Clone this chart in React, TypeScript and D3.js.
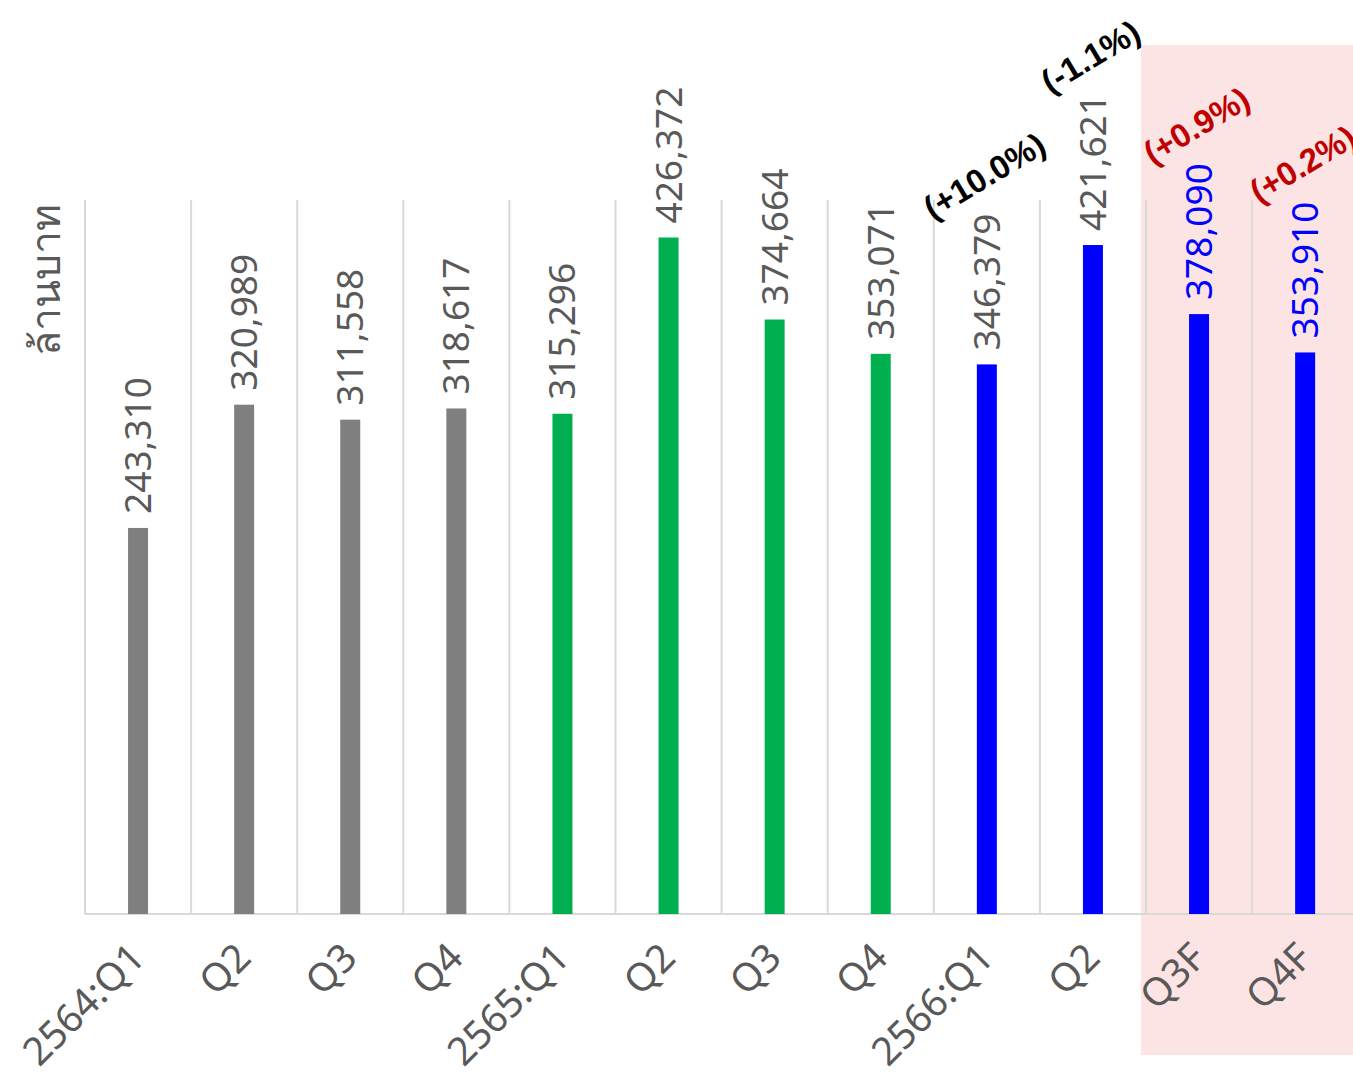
import React from "react";
import * as d3 from "d3";

const categories = ["2564:Q1", "Q2", "Q3", "Q4", "2565:Q1", "Q2 ", "Q3 ", "Q4 ", "2566:Q1", "Q2  ", "Q3F", "Q4F"];
const values = [243310, 320989, 311558, 318617, 315296, 426372, 374664, 353071, 346379, 421621, 378090, 353910];
const barColors = ["#7f7f7f", "#7f7f7f", "#7f7f7f", "#7f7f7f", "#00b050", "#00b050", "#00b050", "#00b050", "#0000ff", "#0000ff", "#0000ff", "#0000ff"];
const labelColors = ["#595959", "#595959", "#595959", "#595959", "#595959", "#595959", "#595959", "#595959", "#595959", "#595959", "#0000ff", "#0000ff"];
const changeIndex = [8, 9, 10, 11];
const changeText = ["(+10.0%)", "(-1.1%)", "(+0.9%)", "(+0.2%)"];
const changeColors = ["#000000", "#000000", "#c00000", "#c00000"];
const yLabel = "ล้านบาท";

const W = 1353;
const H = 1081;
const left = 85;
const step = 106.1;
const baseY = 914;
const topY = 200;

export default function App() {
  const x = d3.scaleBand<string>().domain(categories).range([left, left + step * categories.length]).paddingInner(0).paddingOuter(0);
  const y = d3.scaleLinear().domain([0, 450000]).range([baseY, topY]);
  const barW = 20;
  const font = "'Noto Sans', 'Open Sans', sans-serif";
  const labelLen = 134;

  return (
    <svg width={W} height={H} style={{ position: "absolute", left: 0, top: 0, background: "#fff" }}>
      <rect x={(x(categories[10]) as number) - 5} y={45} width={W} height={1055 - 45} fill="#fde4e4" />
      {categories.map((c, i) => (
        <line key={"g" + i} x1={x(c) as number} x2={x(c) as number} y1={topY} y2={baseY} stroke="#d9d9d9" strokeWidth={2} />
      ))}
      <line x1={left} x2={W} y1={baseY} y2={baseY} stroke="#d9d9d9" strokeWidth={2} />
      {categories.map((c, i) => {
        const cx = (x(c) as number) + x.bandwidth() / 2;
        return (
          <rect key={"b" + i} x={cx - barW / 2} y={y(values[i])} width={barW} height={baseY - y(values[i])} fill={barColors[i]} />
        );
      })}
      {categories.map((c, i) => {
        const cx = (x(c) as number) + x.bandwidth() / 2;
        const ty = y(values[i]) - 14;
        return (
          <text key={"l" + i} transform={`translate(${cx + 13},${ty}) rotate(-90)`} fontFamily={font} fontSize={37} fill={labelColors[i]}>
            {d3.format(",")(values[i])}
          </text>
        );
      })}
      {changeIndex.map((idx, k) => {
        const c = categories[idx];
        const cx = (x(c) as number) + x.bandwidth() / 2;
        const ty = y(values[idx]) - 14 - labelLen - 38;
        return (
          <text key={"c" + k} transform={`translate(${cx - 1},${ty}) rotate(-31)`} textAnchor="middle" dominantBaseline="middle" fontFamily="'Liberation Sans', Arial, sans-serif" fontWeight="bold" fontSize={33} fill={changeColors[k]}>
            {changeText[k]}
          </text>
        );
      })}
      {categories.map((c, i) => {
        const cx = (x(c) as number) + x.bandwidth() / 2;
        return (
          <text key={"x" + i} transform={`translate(${cx + 9},${960}) rotate(-45)`} textAnchor="end" fontFamily={font} fontSize={39} fill="#595959">
            {c.trim()}
          </text>
        );
      })}
      <text transform={`translate(60,280) rotate(-90)`} textAnchor="middle" fontFamily={font} fontSize={41} fill="#595959">
        {yLabel}
      </text>
    </svg>
  );
}
